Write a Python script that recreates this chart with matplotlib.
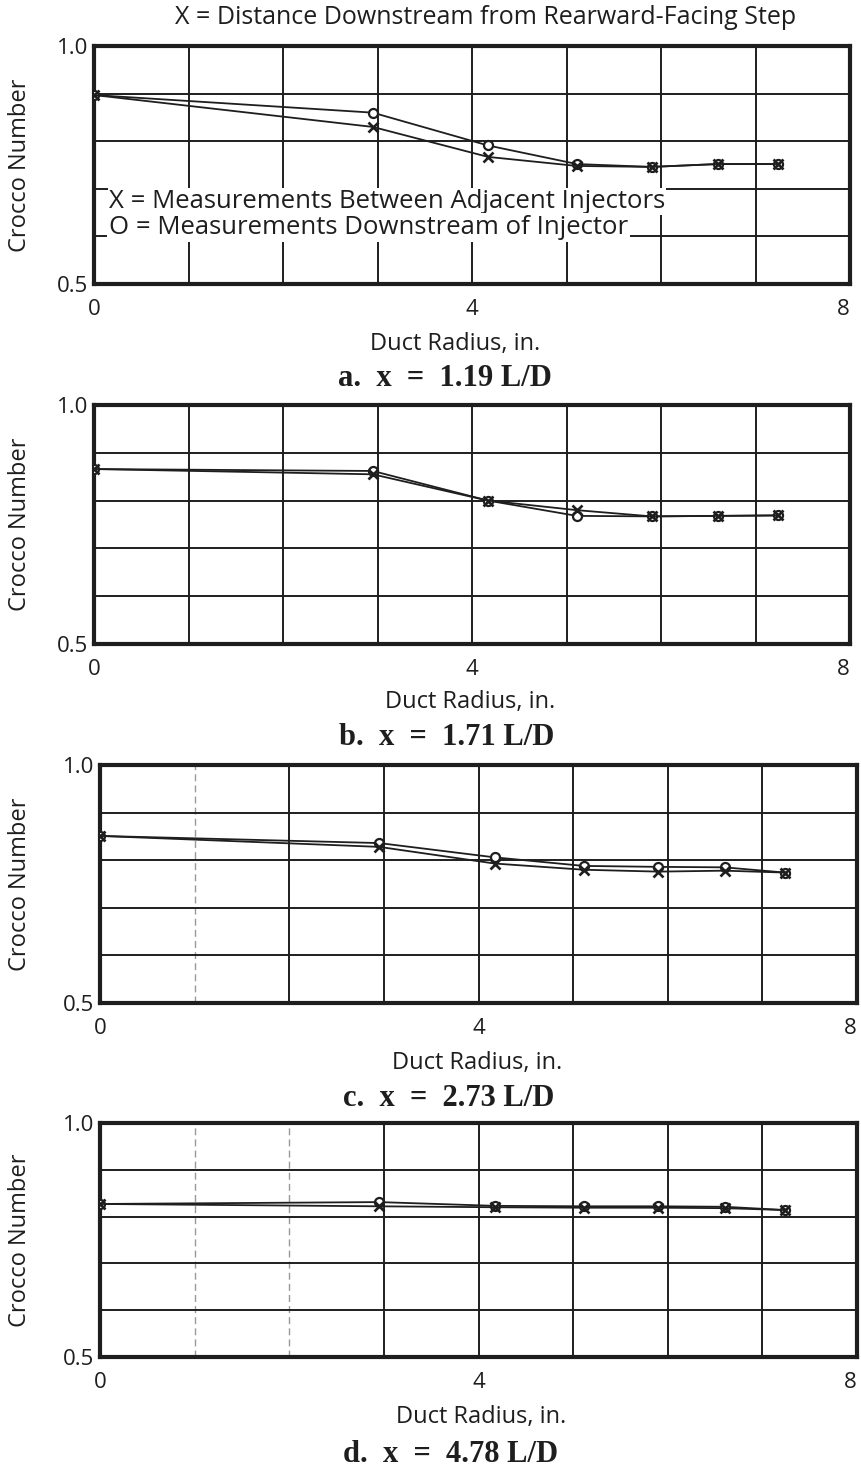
import matplotlib
matplotlib.use('Agg')
import matplotlib.pyplot as plt

# Data
radius = [0, 2.95, 4.17, 5.11, 5.90, 6.60, 7.24]

# panel a: x = 1.19 L/D
a_between = [0.897, 0.830, 0.767, 0.748, 0.746, 0.752, 0.752]
a_down    = [0.897, 0.860, 0.791, 0.752, 0.746, 0.752, 0.752]
# panel b: x = 1.71 L/D
b_between = [0.866, 0.855, 0.800, 0.780, 0.767, 0.768, 0.769]
b_down    = [0.866, 0.862, 0.800, 0.768, 0.767, 0.768, 0.769]
# panel c: x = 2.73 L/D
c_between = [0.851, 0.828, 0.793, 0.780, 0.776, 0.778, 0.774]
c_down    = [0.851, 0.836, 0.806, 0.788, 0.786, 0.785, 0.774]
# panel d: x = 4.78 L/D
d_between = [0.827, 0.822, 0.820, 0.819, 0.819, 0.818, 0.814]
d_down    = [0.827, 0.831, 0.823, 0.822, 0.822, 0.821, 0.814]

captions = ['a.  x  =  1.19 L/D', 'b.  x  =  1.71 L/D',
            'c.  x  =  2.73 L/D', 'd.  x  =  4.78 L/D']
x_ticks = [0, 4, 8]
y_ticks = [0.5, 1.0]

W, H = 861, 1478
ink = '#1e1e1e'
sans = ['Open Sans', 'DejaVu Sans']
serif = ['Liberation Serif', 'DejaVu Serif']

fig = plt.figure(figsize=(W / 100, H / 100), dpi=100)
fig.patch.set_facecolor('white')

# axes boxes in pixels: left, top, right, bottom
boxes = [(94, 46, 850, 284),
         (94, 405, 850, 644),
         (100, 765, 857, 1003),
         (100, 1123, 857, 1357)]
# label rows (pixel): axis label x, y, caption x, y
rows = [(455, 344, 445, 378), (470, 702, 447, 738),
        (477, 1063, 449, 1099), (481, 1417, 451, 1455)]
series = [(a_between, a_down), (b_between, b_down), (c_between, c_down), (d_between, d_down)]
faint_x = [[], [], [1], [1, 2]]  # broken grid lines in the scan

for i, (box, row, (xb, xd)) in enumerate(zip(boxes, rows, series)):
    l, t, r, b = box
    ax = fig.add_axes([l / W, 1 - b / H, (r - l) / W, (b - t) / H])
    ax.set_xlim(0, 8)
    ax.set_ylim(0.5, 1.0)

    # grid
    for gx in range(1, 8):
        if gx in faint_x[i]:
            ax.axvline(gx, color=ink, lw=1.0, ls=(0, (5, 3)), alpha=0.45, zorder=1)
        else:
            ax.axvline(gx, color=ink, lw=1.4, zorder=1)
    for gy in [0.6, 0.7, 0.8, 0.9]:
        ax.axhline(gy, color=ink, lw=1.4, zorder=1)

    ax.plot(radius, xd, color=ink, lw=1.3, marker='o', ms=6.5, mfc='white',
            mec=ink, mew=1.6, zorder=3)
    ax.plot(radius, xb, color=ink, lw=1.3, marker='x', ms=6.5, mec=ink,
            mew=1.9, zorder=4)

    for s in ax.spines.values():
        s.set_linewidth(3.0)
        s.set_color(ink)
    ax.set_xticks(x_ticks)
    ax.set_yticks(y_ticks)
    ax.set_yticklabels(['0.5', '1.0'])
    ax.tick_params(length=0, labelsize=16, colors=ink)
    ax.tick_params(axis='x', pad=11)
    ax.tick_params(axis='y', pad=4)
    for lab in ax.get_xticklabels() + ax.get_yticklabels():
        lab.set_family(sans)
    ax.get_xticklabels()[-1].set_horizontalalignment('right')

    fig.text(row[0] / W, 1 - row[1] / H, 'Duct Radius, in.', ha='center', va='center',
             fontsize=17, family=sans, color=ink)
    fig.text(row[2] / W, 1 - row[3] / H, captions[i], ha='center', va='center',
             fontsize=22, family=serif, fontweight='bold', color=ink)
    fig.text(20 / W, 1 - (t + b) / 2 / H, 'Crocco Number', rotation=90,
             ha='center', va='center', fontsize=17, family=sans, color=ink)

    if i == 0:
        ax.text(0.16, 0.673, 'X = Measurements Between Adjacent Injectors',
                fontsize=18.5, family=sans, color=ink, va='center', zorder=5,
                bbox=dict(facecolor='white', edgecolor='none', pad=0.5))
        ax.text(0.16, 0.619, 'O = Measurements Downstream of Injector',
                fontsize=18.5, family=sans, color=ink, va='center', zorder=5,
                bbox=dict(facecolor='white', edgecolor='none', pad=1.5))

fig.text(486 / W, 1 - 18 / H, 'X = Distance Downstream from Rearward-Facing Step',
         ha='center', va='center', fontsize=18, family=sans, color=ink)

fig.savefig('out.png', dpi=100, facecolor='white')
